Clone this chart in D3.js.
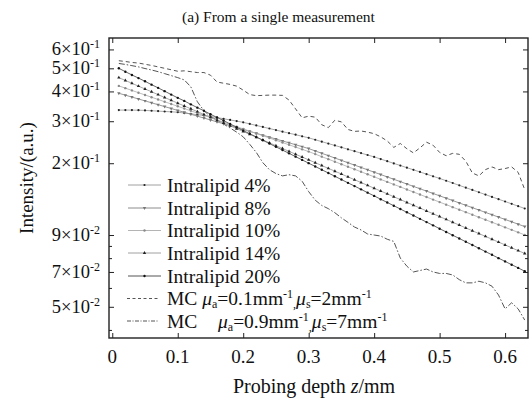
<!DOCTYPE html>
<html>
<head>
<meta charset="utf-8">
<script src="https://cdn.jsdelivr.net/npm/d3@7"></script>
<style>
  body { margin: 0; background: #fff; }
</style>
</head>
<body>
<div id="chart"></div>
<script>
// probing depth (mm)
const depth = [0.01,0.02,0.03,0.04,0.05,0.06,0.07,0.08,0.09,0.10,
  0.11,0.12,0.13,0.14,0.15,0.16,0.17,0.18,0.19,0.20,
  0.21,0.22,0.23,0.24,0.25,0.26,0.27,0.28,0.29,0.30,
  0.31,0.32,0.33,0.34,0.35,0.36,0.37,0.38,0.39,0.40,
  0.41,0.42,0.43,0.44,0.45,0.46,0.47,0.48,0.49,0.50,
  0.51,0.52,0.53,0.54,0.55,0.56,0.57,0.58,0.59,0.60,
  0.61,0.62,0.63];

const il4 = [0.334,0.334,0.334,0.3337,0.333,0.3319,0.3308,0.3296,0.3285,0.3273,
  0.3247,0.3221,0.3195,0.3170,0.3144,0.3108,0.3073,0.3037,0.3003,0.2968,
  0.2924,0.2880,0.2838,0.2796,0.2754,0.2713,0.2673,0.2634,0.2594,0.2556,
  0.2509,0.2463,0.2418,0.2374,0.2331,0.2288,0.2246,0.2205,0.2165,0.2126,
  0.2082,0.2039,0.1997,0.1956,0.1916,0.1877,0.1838,0.1800,0.1763,0.1727,
  0.1689,0.1652,0.1615,0.1580,0.1545,0.1511,0.1477,0.1445,0.1413,0.1382,
  0.1351,0.1321,0.1292];

const il8 = [0.393,0.3858,0.3788,0.3719,0.3651,0.3584,0.3519,0.3455,0.3392,0.3330,
  0.3269,0.3209,0.3151,0.3093,0.3037,0.2981,0.2927,0.2874,0.2821,0.2770,
  0.2719,0.2670,0.2621,0.2573,0.2526,0.2480,0.2435,0.2391,0.2347,0.2304,
  0.2252,0.2201,0.2152,0.2103,0.2056,0.2009,0.1964,0.1920,0.1876,0.1834,
  0.1793,0.1752,0.1713,0.1674,0.1636,0.1599,0.1563,0.1528,0.1493,0.1460,
  0.1427,0.1395,0.1363,0.1332,0.1302,0.1273,0.1244,0.1216,0.1189,0.1162,
  0.1136,0.1110,0.1085];

const il10 = [0.422,0.4129,0.4039,0.3952,0.3866,0.3783,0.3701,0.3621,0.3542,0.3466,
  0.3391,0.3317,0.3246,0.3175,0.3107,0.3040,0.2974,0.2909,0.2846,0.2785,
  0.2725,0.2666,0.2608,0.2552,0.2496,0.2442,0.2389,0.2338,0.2287,0.2238,
  0.2184,0.2131,0.2080,0.2030,0.1981,0.1933,0.1887,0.1841,0.1797,0.1754,
  0.1711,0.1670,0.1630,0.1591,0.1552,0.1515,0.1478,0.1443,0.1408,0.1374,
  0.1341,0.1309,0.1277,0.1247,0.1217,0.1187,0.1159,0.1131,0.1104,0.1077,
  0.1051,0.1026,0.1001];

const il14 = [0.457,0.4447,0.4327,0.4210,0.4096,0.3986,0.3878,0.3773,0.3671,0.3572,
  0.3476,0.3382,0.3291,0.3202,0.3115,0.3031,0.2949,0.2870,0.2792,0.2717,
  0.2643,0.2572,0.2503,0.2435,0.2369,0.2305,0.2243,0.2182,0.2123,0.2066,
  0.2010,0.1956,0.1903,0.1852,0.1802,0.1753,0.1706,0.1660,0.1615,0.1571,
  0.1529,0.1488,0.1447,0.1408,0.1370,0.1333,0.1297,0.1262,0.1228,0.1195,
  0.1163,0.1131,0.1101,0.1071,0.1042,0.1014,0.0987,0.0960,0.0934,0.0909,
  0.0884,0.0860,0.0837];

const il20 = [0.500,0.484,0.469,0.455,0.441,0.427,0.414,0.401,0.388,0.376,
  0.365,0.353,0.342,0.332,0.321,0.311,0.302,0.292,0.283,0.274,
  0.2659,0.2576,0.2496,0.2418,0.2343,0.2270,0.2200,0.2131,0.2065,0.2001,
  0.1938,0.1878,0.1820,0.1763,0.1708,0.1655,0.1604,0.1554,0.1505,0.1459,
  0.1413,0.1369,0.1327,0.1285,0.1245,0.1207,0.1169,0.1133,0.1098,0.1063,
  0.1030,0.0998,0.0967,0.0937,0.0908,0.0880,0.0852,0.0826,0.0800,0.0775,
  0.0751,0.0728,0.0705];

const mc1 = [0.538,0.534,0.529,0.526,0.520,0.514,0.507,0.500,0.493,0.486,
  0.488,0.484,0.480,0.480,0.468,0.438,0.433,0.428,0.421,0.405,
  0.388,0.384,0.385,0.386,0.386,0.385,0.368,0.338,0.310,0.315,
  0.312,0.290,0.282,0.303,0.298,0.277,0.272,0.273,0.270,0.266,
  0.258,0.248,0.233,0.242,0.230,0.221,0.232,0.245,0.238,0.222,
  0.215,0.220,0.218,0.204,0.182,0.177,0.188,0.193,0.188,0.190,
  0.193,0.183,0.155];

const mc2 = [0.524,0.519,0.513,0.507,0.499,0.492,0.484,0.475,0.466,0.457,
  0.447,0.418,0.362,0.332,0.314,0.304,0.292,0.281,0.270,0.258,
  0.240,0.222,0.201,0.188,0.181,0.177,0.179,0.177,0.168,0.152,
  0.140,0.133,0.129,0.124,0.118,0.113,0.108,0.105,0.101,0.100,
  0.099,0.096,0.094,0.080,0.074,0.070,0.071,0.072,0.070,0.069,
  0.069,0.068,0.065,0.063,0.063,0.064,0.063,0.061,0.056,0.049,
  0.052,0.049,0.044];

// axis ticks
const xTicks = [0, 0.1, 0.2, 0.3, 0.4, 0.5, 0.6];
const xTickLabels = ["0", "0.1", "0.2", "0.3", "0.4", "0.5", "0.6"];
const yMajor = [0.6, 0.5, 0.4, 0.3, 0.2, 0.1, 0.07, 0.05];
const yMant = ["6", "5", "4", "3", "2", "9", "7", "5"];   // as printed in the figure
const yExp = ["-1", "-1", "-1", "-1", "-1", "-2", "-2", "-2"];
const yMinor = [0.04, 0.06, 0.08, 0.09];

const FONT = "'Liberation Serif', 'Times New Roman', serif";
const width = 529, height = 401;
const svg = d3.select("#chart").append("svg")
    .attr("width", width)
    .attr("height", height)
    .attr("font-family", FONT);

const x = d3.scaleLinear().domain([-0.005, 0.635]).range([109, 528]);
const y = d3.scaleLog().domain([0.037, 0.67]).range([338, 38]);

// series: lines with small markers
const series = [
  { name: "4%",  values: il4,  line: "#a0a0a0", mark: "circle", fill: "#222", r: 1.1 },
  { name: "8%",  values: il8,  line: "#8c8c8c", mark: "tridown", fill: "#777" },
  { name: "10%", values: il10, line: "#b4b4b4", mark: "circle", fill: "#8a8a8a", r: 1.2 },
  { name: "14%", values: il14, line: "#a0a0a0", mark: "triup", fill: "#222" },
  { name: "20%", values: il20, line: "#555", mark: "circle", fill: "#111", r: 1.2 }
];
const mcSeries = [
  { values: mc1, dash: "4,3", color: "#555" },
  { values: mc2, dash: "6,2,1.5,2", color: "#555" }
];

const plot = svg.append("g");
plot.append("clipPath").attr("id", "clip")
  .append("rect").attr("x", 109).attr("y", 38).attr("width", 419).attr("height", 300);

const line = d3.line().x((d, i) => x(depth[i])).y(d => y(d));

const body = plot.append("g").attr("clip-path", "url(#clip)");

mcSeries.forEach(s => {
  body.append("path")
    .datum(s.values)
    .attr("fill", "none")
    .attr("stroke", s.color)
    .attr("stroke-width", 1)
    .attr("stroke-dasharray", s.dash)
    .attr("d", line);
});

function drawMarker(g, s, cx, cy) {
  if (s.mark === "circle") {
    g.append("circle").attr("cx", cx).attr("cy", cy).attr("r", s.r).attr("fill", s.fill);
  } else {
    g.append("path")
      .attr("d", d3.symbol(d3.symbolTriangle, 5)())
      .attr("transform", `translate(${cx},${cy})` + (s.mark === "tridown" ? " rotate(180)" : ""))
      .attr("fill", s.fill);
  }
}

series.forEach(s => {
  body.append("path")
    .datum(s.values)
    .attr("fill", "none")
    .attr("stroke", s.line)
    .attr("stroke-width", 0.9)
    .attr("d", line);
  const mg = body.append("g");
  s.values.forEach((v, i) => drawMarker(mg, s, x(depth[i]), y(v)));
});

// axes (ticks inward, mirrored)
const ax = svg.append("g").attr("class", "axes");
function styleAxis(g) {
  g.select(".domain").remove();
  g.selectAll(".tick line").attr("stroke", "#222").attr("stroke-width", 1);
}
ax.append("g").attr("transform", "translate(0,338)")
  .call(d3.axisBottom(x).tickValues(xTicks).tickSize(-5).tickFormat(""))
  .call(styleAxis);
ax.append("g").attr("transform", "translate(0,38)")
  .call(d3.axisTop(x).tickValues(xTicks).tickSize(-5).tickFormat(""))
  .call(styleAxis);
ax.append("g").attr("transform", "translate(109,0)")
  .call(d3.axisLeft(y).tickValues(yMajor).tickSize(-5).tickFormat(""))
  .call(styleAxis);
ax.append("g").attr("transform", "translate(109,0)")
  .call(d3.axisLeft(y).tickValues(yMinor).tickSize(-3).tickFormat(""))
  .call(styleAxis);
ax.append("g").attr("transform", "translate(528,0)")
  .call(d3.axisRight(y).tickValues(yMajor).tickSize(-5).tickFormat(""))
  .call(styleAxis);
ax.append("g").attr("transform", "translate(528,0)")
  .call(d3.axisRight(y).tickValues(yMinor).tickSize(-3).tickFormat(""))
  .call(styleAxis);

svg.append("rect")
  .attr("x", 109).attr("y", 38).attr("width", 419).attr("height", 300)
  .attr("fill", "none").attr("stroke", "#222").attr("stroke-width", 1.4);

// x tick labels
svg.append("g").selectAll("text")
  .data(xTicks)
  .join("text")
  .attr("x", d => x(d))
  .attr("y", 363)
  .attr("text-anchor", "middle")
  .attr("font-size", 19)
  .attr("fill", "#111")
  .text((d, i) => xTickLabels[i]);

// y tick labels with superscript exponent
const yl = svg.append("g").selectAll("text")
  .data(yMajor)
  .join("text")
  .attr("x", 100)
  .attr("y", d => y(d) + 6)
  .attr("text-anchor", "end")
  .attr("font-size", 18.5)
  .attr("fill", "#111");
yl.append("tspan").text((d, i) => yMant[i] + "×10");
yl.append("tspan").attr("dy", -7).attr("font-size", 12).text((d, i) => yExp[i]);

// axis titles
svg.append("text")
  .attr("transform", "translate(33,178) rotate(-90)")
  .attr("text-anchor", "middle")
  .attr("font-size", 19)
  .attr("fill", "#111")
  .text("Intensity/(a.u.)");

const xt = svg.append("text")
  .attr("x", 314).attr("y", 393)
  .attr("text-anchor", "middle")
  .attr("font-size", 20)
  .attr("fill", "#111");
xt.append("tspan").text("Probing depth ");
xt.append("tspan").attr("font-style", "italic").text("z");
xt.append("tspan").text("/mm");

// title
svg.append("text")
  .attr("x", 182).attr("y", 22)
  .attr("font-size", 15.5)
  .attr("fill", "#111")
  .text("(a) From a single measurement");

// legend
const legY = [185, 208, 230.5, 253, 276, 298.5, 321];
const leg = svg.append("g");
series.forEach((s, i) => {
  const yy = legY[i];
  leg.append("line").attr("x1", 128).attr("x2", 161).attr("y1", yy).attr("y2", yy)
    .attr("stroke", s.line).attr("stroke-width", 1);
  drawMarker(leg, s, 144.5, yy);
  leg.append("text").attr("x", 167).attr("y", yy + 6.5)
    .attr("font-size", 19.5)
    .attr("fill", "#111")
    .text("Intralipid " + s.name);
});

function rich(t, parts) {
  let off = 0;
  parts.forEach(p => {
    const sp = t.append("tspan").text(p.t);
    let target = 0;
    if (p.s === "sub") { target = 3; sp.attr("font-size", 12); }
    if (p.s === "sup") { target = -7; sp.attr("font-size", 12); }
    if (p.s === "it") sp.attr("font-style", "italic");
    if (p.x !== undefined) sp.attr("x", p.x);
    if (target !== off) sp.attr("dy", target - off);
    off = target;
  });
}

const mcLabels = [
  [{ t: "MC " }, { t: "μ", s: "it" }, { t: "a", s: "sub" }, { t: "=0.1mm" }, { t: "-1", s: "sup" },
   { t: ",", s: "sub" }, { t: "μ", s: "it" }, { t: "s", s: "sub" }, { t: "=2mm" }, { t: "-1", s: "sup" }],
  [{ t: "MC" }, { t: "μ", s: "it", x: 218 }, { t: "a", s: "sub" }, { t: "=0.9mm" }, { t: "-1", s: "sup" },
   { t: ",", s: "sub" }, { t: "μ", s: "it" }, { t: "s", s: "sub" }, { t: "=7mm" }, { t: "-1", s: "sup" }]
];
mcSeries.forEach((s, i) => {
  const yy = legY[5 + i];
  leg.append("line").attr("x1", 127).attr("x2", 159).attr("y1", yy).attr("y2", yy)
    .attr("stroke", s.color).attr("stroke-width", 1).attr("stroke-dasharray", i === 0 ? "3,2.5" : "4,1.5,1,1.5");
  const t = leg.append("text").attr("x", 167).attr("y", yy + 6.5)
    .attr("font-size", 19.5)
    .attr("fill", "#111");
  rich(t, mcLabels[i]);
});
</script>
</body>
</html>
